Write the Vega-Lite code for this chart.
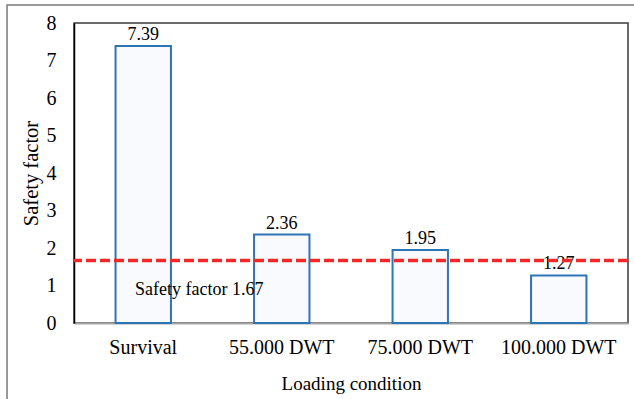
{
  "$schema": "https://vega.github.io/schema/vega-lite/v6.json",
  "width": 554,
  "height": 300,
  "autosize": {"type": "none"},
  "padding": {"left": 74, "top": 23, "right": 6, "bottom": 76},
  "background": "white",
  "config": {
    "font": "Liberation Serif",
    "view": {"stroke": "#3a3a3a", "strokeWidth": 1.5},
    "axis": {
      "labelFont": "Liberation Serif",
      "titleFont": "Liberation Serif",
      "labelColor": "#000",
      "titleColor": "#000",
      "titleFontWeight": "normal",
      "grid": false,
      "ticks": false
    },
    "axisY": {
      "values": [0, 1, 2, 3, 4, 5, 6, 7, 8],
      "tickCount": 9,
      "labelOverlap": false,
      "labelFontSize": 20,
      "titleFontSize": 20.5,
      "labelPadding": 18,
      "titlePadding": 5,
      "domainColor": "#000",
      "domainWidth": 1.5
    }
  },
  "datasets": {
    "bars": [
      {"condition": "Survival", "factor": 7.39},
      {"condition": "55.000 DWT", "factor": 2.36},
      {"condition": "75.000 DWT", "factor": 1.95},
      {"condition": "100.000 DWT", "factor": 1.27}
    ],
    "threshold": [
      {"label": "Safety factor 1.67", "factor": 1.67}
    ]
  },
  "layer": [
    {
      "layer": [
        {
          "data": {"name": "bars"},
          "mark": {"type": "bar", "fill": "#f8fafd", "stroke": "#2e75b6", "strokeWidth": 2, "width": {"band": 1}},
          "encoding": {
            "x": {
              "field": "condition", "type": "nominal", "sort": null,
              "scale": {"paddingInner": 0.6, "paddingOuter": 0.3},
              "axis": {"title": "Loading condition", "labelAngle": 0, "labelFontSize": 20, "titleFontSize": 19,
                       "labelPadding": 14, "titlePadding": 17, "domainColor": "#a6a6a6", "domainWidth": 2}
            },
            "y": {
              "field": "factor", "type": "quantitative",
              "scale": {"domain": [0, 8], "nice": false},
              "axis": {"title": "Safety factor", "values": [0, 1, 2, 3, 4, 5, 6, 7, 8], "tickCount": 9, "labelOverlap": false}
            }
          }
        },
        {
          "data": {"name": "bars"},
          "mark": {"type": "text", "fontSize": 18, "baseline": "alphabetic", "dy": -6, "color": "#000"},
          "encoding": {
            "x": {"field": "condition", "type": "nominal", "sort": null},
            "y": {"field": "factor", "type": "quantitative", "scale": {"domain": [0, 8], "nice": false}},
            "text": {"field": "factor", "type": "quantitative", "format": ".2f"}
          }
        },
        {
          "data": {"name": "threshold"},
          "mark": {"type": "rule", "color": "#f02828", "strokeWidth": 3.5, "strokeDash": [10, 4]},
          "encoding": {
            "y": {"field": "factor", "type": "quantitative", "scale": {"domain": [0, 8], "nice": false}}
          }
        },
        {
          "data": {"name": "threshold"},
          "mark": {"type": "text", "fontSize": 18, "baseline": "middle", "align": "center", "dx": 56, "dy": 30, "color": "#000"},
          "encoding": {
            "x": {"datum": "Survival", "type": "nominal"},
            "y": {"field": "factor", "type": "quantitative", "scale": {"domain": [0, 8], "nice": false}},
            "text": {"field": "label"}
          }
        }
      ]
    },
    {
      "data": {"values": [{}]},
      "mark": {"type": "rect", "fillOpacity": 0, "stroke": "#7a7a7a", "strokeWidth": 1.5},
      "encoding": {
        "x": {"datum": -0.1209, "type": "quantitative", "scale": {"domain": [0, 1], "nice": false, "zero": false}, "axis": null},
        "x2": {"datum": 1.3},
        "y": {"datum": 8.48, "type": "quantitative", "scale": {"domain": [0, 8], "nice": false},
              "axis": {"title": "Safety factor", "values": [0, 1, 2, 3, 4, 5, 6, 7, 8], "tickCount": 9, "labelOverlap": false}},
        "y2": {"datum": -3}
      }
    }
  ],
  "resolve": {"scale": {"x": "independent"}, "axis": {"x": "independent"}}
}
